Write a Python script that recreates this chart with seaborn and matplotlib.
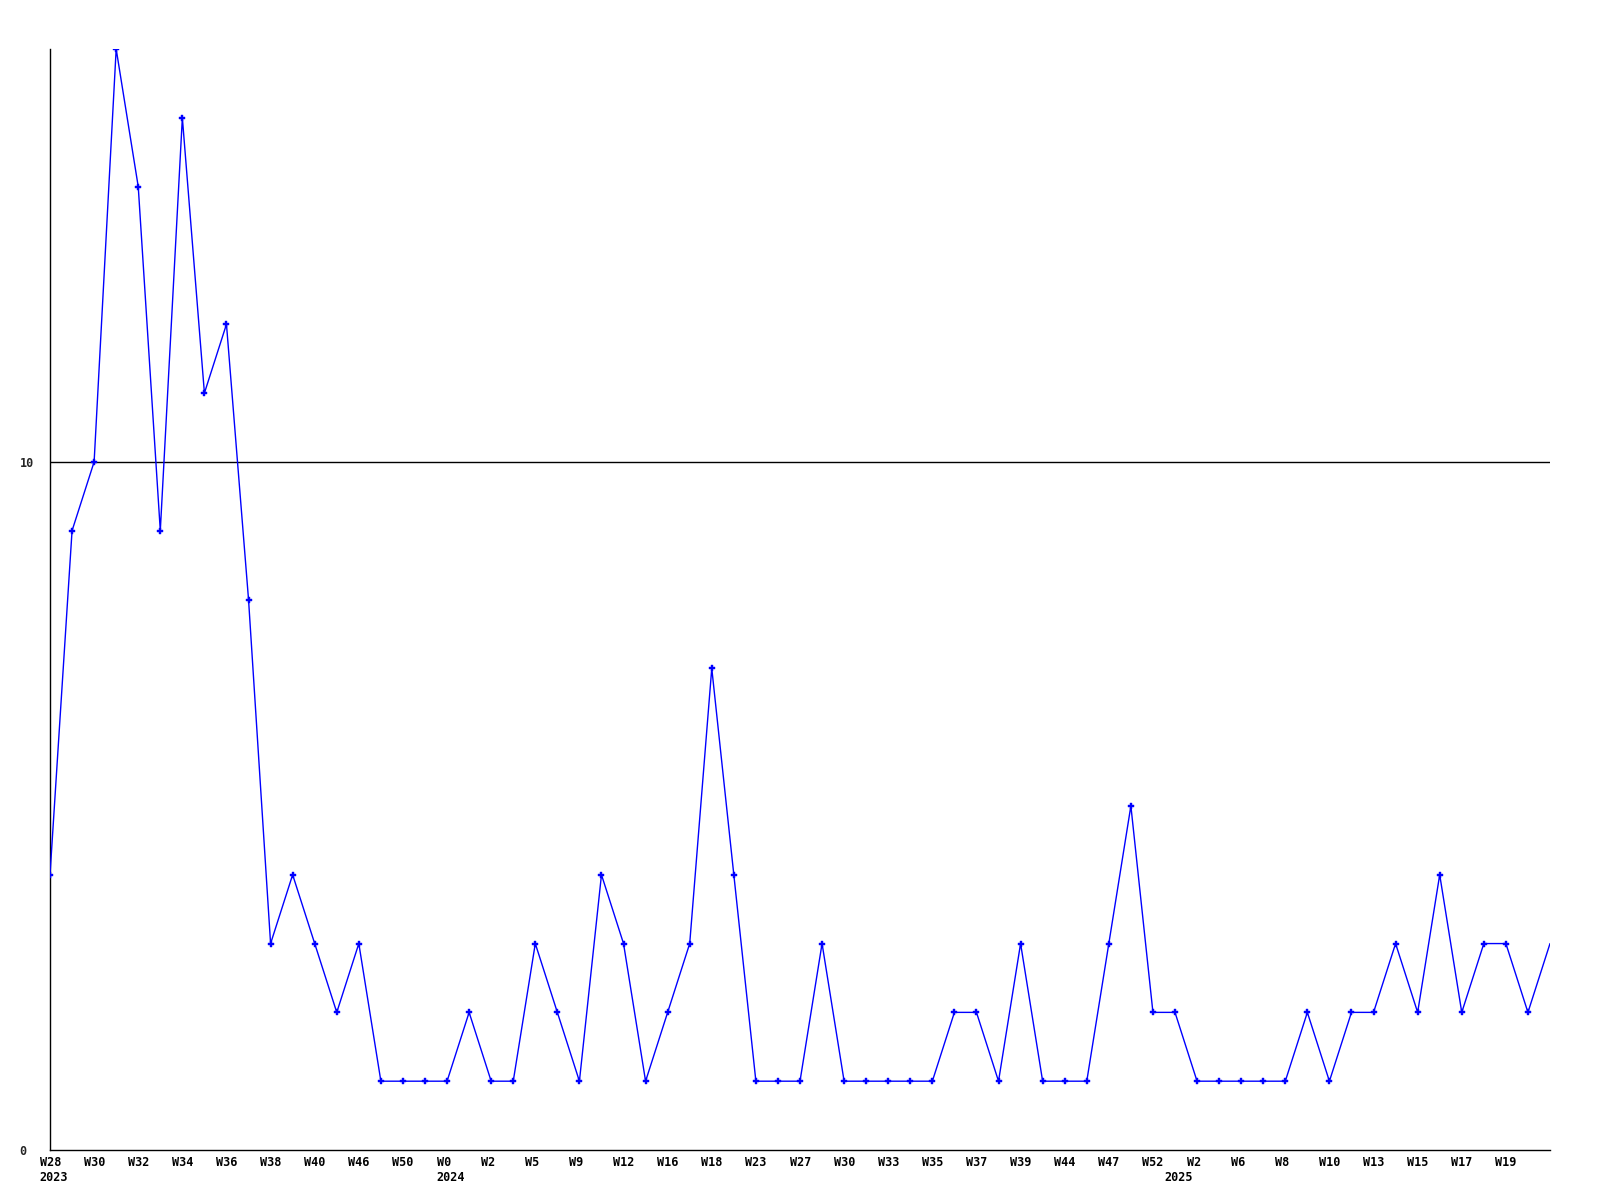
import matplotlib
matplotlib.use("Agg")
import matplotlib.pyplot as plt
import matplotlib.transforms as mtransforms
import seaborn as sns
import pandas as pd

sns.set_style("white")
plt.rcParams['font.family'] = ['DejaVu Sans Mono', 'DejaVu Sans']

# weekly counts, one per plotted point
counts = [4, 9, 10, 16, 14, 9, 15, 11, 12, 8,
          3, 4, 3, 2, 3, 1, 1, 1, 1, 2,
          1, 1, 3, 2, 1, 4, 3, 1, 2, 3,
          7, 4, 1, 1, 1, 3, 1, 1, 1, 1,
          1, 2, 2, 1, 3, 1, 1, 1, 3, 5,
          2, 2, 1, 1, 1, 1, 1, 2, 1, 2,
          2, 3, 2, 4, 2, 3, 3, 2, 3]

# labels shown under every second point
week_labels = ["W28", "W30", "W32", "W34", "W36", "W38", "W40", "W46", "W50",
               "W0", "W2", "W5", "W9", "W12", "W16", "W18", "W23", "W27",
               "W30", "W33", "W35", "W37", "W39", "W44", "W47", "W52", "W2",
               "W6", "W8", "W10", "W13", "W15", "W17", "W19"]
# year label -> point index where it is printed
year_points = {"2023": 0, "2024": 18, "2025": 51}

y_ticks = [0, 10]

df = pd.DataFrame({"idx": range(len(counts)), "count": counts})

fig = plt.figure(figsize=(16, 12), dpi=100)
ax = fig.add_axes([50 / 1600, 1 - 1150 / 1200, 1500 / 1600, 1101 / 1200])

ax.axhline(10, color="black", lw=1.0, zorder=1)
sns.lineplot(data=df, x="idx", y="count", ax=ax, sort=False, color="#0000ff",
             lw=1.0, marker="P", markersize=5, markeredgewidth=0.3,
             markeredgecolor="#0000ff",
             markevery=list(range(len(counts) - 1)), zorder=3)

ax.set_xlim(0, len(counts) - 1)
ax.set_ylim(0, 16)

# week / year labels, left-aligned a little left of each point
ax.set_xticks([])
base = mtransforms.blended_transform_factory(ax.transData, ax.transAxes)
week_tr = base + mtransforms.ScaledTranslation(-10.5 / 100, -6 / 100, fig.dpi_scale_trans)
year_tr = base + mtransforms.ScaledTranslation(-10.5 / 100, -20.7 / 100, fig.dpi_scale_trans)
for i, w in enumerate(week_labels):
    ax.text(df["idx"].iloc[i * 2], 0, w, transform=week_tr, fontsize=8.5,
            fontweight="bold", ha="left", va="top", color="black")
for yr, pos in year_points.items():
    ax.text(df["idx"].iloc[pos], 0, yr, transform=year_tr, fontsize=8.5,
            fontweight="bold", ha="left", va="top", color="black")

ax.set_yticks(y_ticks)
ax.set_yticklabels([str(v) for v in y_ticks], fontsize=8.5, fontweight="bold",
                   ha="left")
ax.tick_params(axis="y", length=0, pad=22)

ax.set_xlabel("")
ax.set_ylabel("")
for side in ["top", "right"]:
    ax.spines[side].set_visible(False)
for side in ["left", "bottom"]:
    ax.spines[side].set_color("black")
    ax.spines[side].set_linewidth(1.0)
ax.grid(False)

fig.savefig("out.png", dpi=100)
